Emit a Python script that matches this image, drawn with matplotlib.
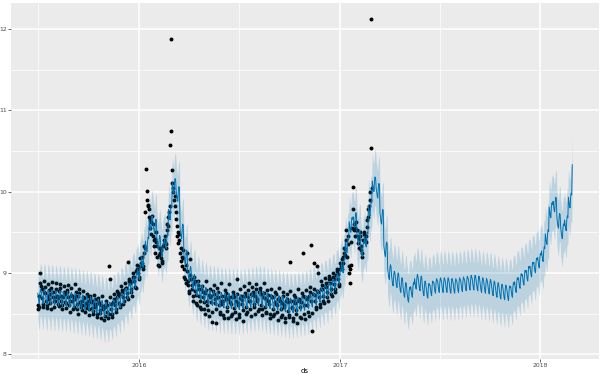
import numpy as np
import pandas as pd
import matplotlib
matplotlib.use("Agg")
import matplotlib.pyplot as plt
import matplotlib.dates as mdates
from matplotlib.ticker import MultipleLocator

history_start = "2015-07-01"
forecast_end = "2018-02-28"
year_ticks = ["2016-01-01", "2017-01-01", "2018-01-01"]
year_labels = ["2016", "2017", "2018"]
mid_year_ticks = ["2015-07-02", "2016-07-02", "2017-07-02"]

# observed daily values, one row per week (Wed .. Tue), from 2015-07-01
observed_weeks = [
    [8.55, 8.60, 8.58, 8.71, 9.00, 8.88, 8.84],
    [8.80, 8.69, 8.62, 8.58, 8.77, 8.90, 8.83],
    [8.75, 8.66, 8.57, 8.60, 8.72, 8.86, 8.79],
    [8.68, 8.74, 8.63, 8.56, 8.81, 8.89, 8.70],
    [8.77, 8.65, 8.58, 8.66, 8.70, 8.87, 8.80],
    [8.71, 8.62, 8.69, 8.59, 8.78, 8.82, 8.86],
    [8.66, 8.72, 8.61, 8.55, 8.70, 8.84, 8.76],
    [8.74, 8.64, 8.57, 8.63, 8.76, 8.79, 8.85],
    [8.70, 8.61, 8.66, 8.52, 8.73, 8.81, 8.72],
    [8.65, 8.70, 8.56, 8.58, 8.68, 8.86, 8.77],
    [8.72, 8.62, 8.55, 8.50, 8.71, 8.75, 8.80],
    [8.64, 8.58, 8.61, 8.54, 8.66, 8.78, 8.70],
    [8.69, 8.60, 8.52, 8.57, 8.63, 8.74, 8.72],
    [8.61, 8.66, 8.55, 8.48, 8.69, 8.71, 8.64],
    [8.65, 8.57, 8.50, 8.53, 8.62, 8.73, 8.68],
    [8.58, 8.62, 8.49, 8.46, 8.66, 8.69, 8.63],
    [8.63, 8.54, 8.51, 8.44, 8.60, 8.72, 8.57],
    [8.55, 8.59, 8.42, 8.47, 8.58, 8.66, 8.62],
    [8.60, 8.52, 8.45, 8.49, 9.09, 8.93, 8.70],
    [8.62, 8.55, 8.50, 8.46, 8.64, 8.74, 8.68],
    [8.66, 8.60, 8.55, 8.52, 8.70, 8.78, 8.75],
    [8.72, 8.63, 8.58, 8.61, 8.74, 8.84, 8.79],
    [8.76, 8.70, 8.62, 8.66, 8.80, 8.88, 8.82],
    [8.82, 8.75, 8.70, 8.68, 9.13, 8.93, 8.90],
    [8.88, 8.80, 8.77, 8.72, 8.90, 9.00, 8.95],
    [8.95, 8.90, 8.83, 8.81, 9.02, 9.10, 9.05],
    [9.05, 9.00, 8.95, 8.92, 9.08, 9.18, 9.12],
    [9.20, 9.12, 9.08, 9.05, 9.25, 9.33, 9.30],
    [9.75, 10.28, 10.01, 9.90, 9.84, 9.82, 9.78],
    [9.69, 9.65, 9.55, 9.48, 9.62, 9.70, 9.60],
    [9.45, 9.41, 9.33, 9.25, 9.42, 9.50, 9.38],
    [9.33, 9.20, 9.10, 9.08, 9.22, 9.30, 9.25],
    [9.28, 9.18, 9.12, 9.15, 9.33, 9.40, 9.36],
    [9.45, 9.38, 9.30, 9.35, 9.53, 9.60, 9.58],
    [9.69, 9.75, 9.82, 10.57, 10.75, 11.88, 10.26],
    [10.11, 10.05, 9.99, 9.90, 9.95, 9.82, 9.75],
    [9.66, 9.58, 9.45, 9.37, 9.50, 9.48, 9.40],
    [9.25, 9.30, 9.15, 9.08, 9.20, 9.28, 9.18],
    [8.95, 9.05, 8.92, 8.88, 9.10, 9.25, 9.02],
    [8.90, 8.85, 8.78, 8.75, 9.17, 8.98, 8.92],
    [8.85, 8.80, 8.72, 8.66, 8.88, 8.95, 8.90],
    [8.78, 8.73, 8.63, 8.60, 8.85, 8.90, 8.80],
    [8.72, 8.66, 8.58, 8.55, 8.80, 8.84, 8.76],
    [8.70, 8.64, 8.56, 8.50, 8.75, 8.90, 8.79],
    [8.66, 8.61, 8.54, 8.47, 8.73, 8.80, 8.70],
    [8.72, 8.64, 8.52, 8.40, 8.78, 8.85, 8.74],
    [8.63, 8.68, 8.55, 8.38, 8.70, 8.82, 8.77],
    [8.70, 8.60, 8.50, 8.52, 8.66, 8.88, 8.72],
    [8.62, 8.65, 8.48, 8.44, 8.72, 8.79, 8.75],
    [8.68, 8.58, 8.53, 8.45, 8.68, 8.86, 8.70],
    [8.64, 8.62, 8.47, 8.50, 8.70, 8.77, 8.73],
    [8.70, 8.57, 8.52, 8.43, 8.66, 8.92, 8.74],
    [8.63, 8.60, 8.46, 8.49, 8.69, 8.80, 8.71],
    [8.67, 8.62, 8.54, 8.41, 8.72, 8.84, 8.75],
    [8.72, 8.58, 8.50, 8.52, 8.70, 8.79, 8.88],
    [8.66, 8.65, 8.55, 8.47, 8.74, 8.83, 8.77],
    [8.73, 8.62, 8.58, 8.50, 8.71, 8.86, 8.80],
    [8.68, 8.66, 8.53, 8.55, 8.76, 8.81, 8.78],
    [8.74, 8.61, 8.56, 8.48, 8.70, 8.88, 8.75],
    [8.69, 8.58, 8.51, 8.52, 8.67, 8.79, 8.73],
    [8.65, 8.62, 8.49, 8.45, 8.72, 8.80, 8.70],
    [8.70, 8.56, 8.47, 8.50, 8.64, 8.76, 8.74],
    [8.62, 8.60, 8.52, 8.42, 8.68, 8.82, 8.69],
    [8.66, 8.55, 8.46, 8.48, 8.63, 8.77, 8.71],
    [8.60, 8.58, 8.45, 8.40, 8.66, 8.74, 8.68],
    [8.64, 8.53, 8.48, 8.46, 9.14, 8.78, 8.66],
    [8.58, 8.57, 8.44, 8.41, 8.65, 8.73, 8.70],
    [8.63, 8.54, 8.49, 8.38, 8.67, 8.80, 8.68],
    [8.66, 8.58, 8.46, 8.45, 8.64, 8.75, 8.72],
    [9.25, 8.61, 8.50, 8.43, 8.70, 8.79, 8.69],
    [8.68, 8.60, 8.52, 8.47, 8.72, 8.83, 8.76],
    [9.34, 8.65, 8.28, 8.51, 8.74, 9.12, 8.80],
    [8.73, 8.66, 8.58, 8.55, 8.78, 9.09, 9.00],
    [8.77, 8.70, 8.62, 8.58, 8.80, 8.90, 8.85],
    [8.80, 8.72, 8.65, 8.63, 8.84, 8.94, 8.88],
    [8.83, 8.76, 8.70, 8.66, 8.88, 8.96, 8.92],
    [8.87, 8.80, 8.74, 8.72, 8.92, 9.00, 8.95],
    [8.92, 8.86, 8.80, 8.76, 8.98, 9.05, 9.02],
    [8.99, 8.93, 8.86, 8.84, 9.05, 9.12, 9.08],
    [9.05, 9.17, 9.12, 9.20, 9.25, 9.30, 9.22],
    [9.29, 9.53, 9.40, 9.20, 9.35, 9.45, 9.08],
    [9.00, 8.88, 9.05, 9.10, 9.38, 9.55, 10.06],
    [9.78, 9.60, 9.53, 9.45, 9.55, 9.62, 9.53],
    [9.53, 9.45, 9.37, 9.30, 9.42, 9.50, 9.45],
    [9.33, 9.28, 9.20, 9.25, 9.41, 9.50, 9.48],
    [9.45, 9.41, 9.38, 9.45, 9.57, 9.65, 9.69],
    [9.78, 9.82, 9.90, 10.00, 10.53, 12.12, 10.05],
]

# weekly level of the fitted curve, from 2015-07-01 to 2018-02-28
trend_weekly = [
    8.72, 8.72, 8.71, 8.71, 8.70, 8.70, 8.69, 8.69, 8.68, 8.67,
    8.66, 8.65, 8.64, 8.63, 8.61, 8.60, 8.58, 8.56, 8.56, 8.59,
    8.63, 8.67, 8.72, 8.78, 8.84, 8.92, 9.02, 9.17, 9.36, 9.62,
    9.58, 9.38, 9.30, 9.40, 9.75, 10.08, 9.98, 9.52, 9.20, 9.00,
    8.90, 8.82, 8.77, 8.74, 8.71, 8.70, 8.69, 8.68, 8.67, 8.67,
    8.66, 8.66, 8.65, 8.66, 8.67, 8.68, 8.69, 8.70, 8.69, 8.67,
    8.66, 8.65, 8.64, 8.63, 8.62, 8.61, 8.61, 8.62, 8.63, 8.64,
    8.66, 8.68, 8.71, 8.74, 8.77, 8.80, 8.84, 8.89, 8.96, 9.10,
    9.35, 9.60, 9.66, 9.45, 9.30, 9.42, 9.80, 10.10, 10.02, 9.70,
    9.30, 9.02, 8.94, 8.92, 8.86, 8.80, 8.74, 8.80, 8.90, 8.88,
    8.82, 8.79, 8.82, 8.85, 8.86, 8.86, 8.86, 8.85, 8.85, 8.86,
    8.87, 8.88, 8.89, 8.89, 8.88, 8.86, 8.85, 8.84, 8.82, 8.80,
    8.78, 8.77, 8.76, 8.80, 8.86, 8.91, 8.95, 9.00, 9.05, 9.10,
    9.16, 9.24, 9.45, 9.78, 9.85, 9.65, 9.52, 9.62, 9.90, 10.30,
]

# day-of-week effect, Monday .. Sunday
weekly_effect = [0.08, 0.06, 0.03, -0.02, -0.08, -0.10, 0.03]

# half width of the uncertainty band
band_history = 0.32
band_future = 0.34

y = np.array(observed_weeks).ravel()
ds = pd.date_range(history_start, periods=len(y), freq="D")
fc_ds = pd.date_range(history_start, forecast_end, freq="D")
level = np.repeat(trend_weekly, 7)[:len(fc_ds)]
yhat = level + np.array(weekly_effect)[fc_ds.dayofweek]
half = np.where(fc_ds <= ds[-1], band_history, band_future)
lower = yhat - half
upper = yhat + half

fig = plt.figure(figsize=(6.06, 3.74), dpi=100)
ax = fig.add_axes([11 / 606, 1 - 359 / 374, 588 / 606, 356 / 374])
ax.set_facecolor("#EBEBEB")

ax.scatter(ds, y, s=8, color="black", linewidths=0, zorder=3)
ax.plot(fc_ds, yhat, color="#0072B2", lw=0.7, zorder=4)
ax.fill_between(fc_ds, lower, upper, color="#0072B2", alpha=0.2, lw=0, zorder=5)

# ggplot-like 5% expansion
x0, x1 = mdates.date2num(fc_ds[0]), mdates.date2num(fc_ds[-1])
ax.set_xlim(x0 - 0.05 * (x1 - x0), x1 + 0.05 * (x1 - x0))
lo = min(lower.min(), y.min())
hi = max(upper.max(), y.max())
ax.set_ylim(lo - 0.05 * (hi - lo), hi + 0.05 * (hi - lo))

ax.set_xticks(pd.to_datetime(year_ticks))
ax.set_xticklabels(year_labels)
ax.set_xticks(pd.to_datetime(mid_year_ticks), minor=True)
ax.yaxis.set_major_locator(MultipleLocator(1))
ax.yaxis.set_minor_locator(MultipleLocator(0.5))

ax.grid(which="major", color="white", lw=1.1, zorder=0)
ax.grid(which="minor", color="white", lw=0.5, zorder=0)
ax.set_axisbelow(True)
for s in ax.spines.values():
    s.set_visible(False)

ax.tick_params(which="major", length=2, width=0.5, color="#333333",
               labelsize=4.4, labelcolor="#4D4D4D", pad=1)
ax.tick_params(which="minor", length=0)
ax.set_xlabel("ds", fontsize=5, labelpad=0)

fig.savefig("out.png", dpi=100, facecolor="white")
